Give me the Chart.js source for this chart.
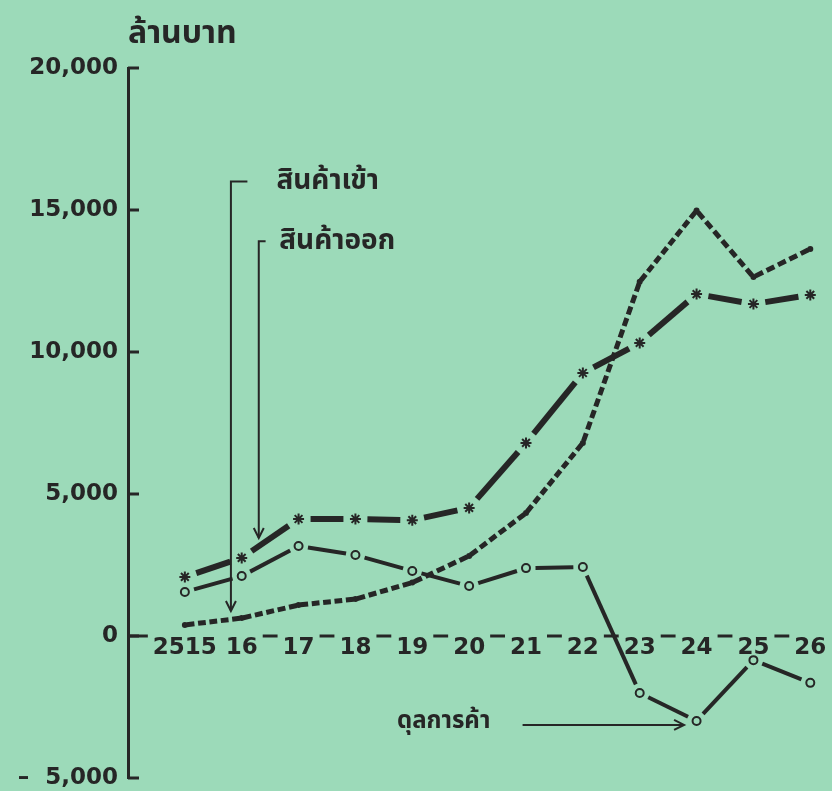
<!DOCTYPE html>
<html>
<head>
<meta charset="utf-8">
<script src="https://cdn.jsdelivr.net/npm/chart.js@4/dist/chart.umd.min.js"></script>
<style>
  html, body { margin: 0; padding: 0; background: #9cdab9; }
  #wrap { width: 832px; height: 791px; }
</style>
</head>
<body>
<div id="wrap"><canvas id="tradeChart" width="832" height="791"></canvas></div>
<script>
// years (2515 = B.E., then short form)
const categories = ['2515', '16', '17', '18', '19', '20', '21', '22', '23', '24', '25', '26'];
// million baht
const exportsValues = [2080, 2750, 4120, 4120, 4080, 4510, 6800, 9260, 10320, 12040, 11690, 12010];
const importsValues = [390, 630, 1090, 1300, 1880, 2820, 4330, 6800, 12470, 14980, 12640, 13630];
const balanceValues = [1550, 2110, 3170, 2850, 2290, 1760, 2390, 2430, -2010, -2990, -850, -1650];
const yTicks = [-5000, 0, 5000, 10000, 15000, 20000];

const INK = '#262626';
const BG = '#9cdab9';
const NUM_FONT = 'DejaVu Sans';
const THAI_FONT = "'Noto Sans Thai', 'Noto Sans Thai Looped', Loma, Garuda, 'Tlwg Typo', 'DejaVu Sans', sans-serif";

const toPoints = (vals) => vals.map((v, i) => ({ x: i, y: v }));

const segLen = (ctx) => Math.hypot(ctx.p1.x - ctx.p0.x, ctx.p1.y - ctx.p0.y);

// one solid dash per segment, leaving a gap g around each marker
const gapped = (g) => ({
  borderDash: ctx => { const L = segLen(ctx); return [Math.max(L - 2 * g, 0), 2 * g]; },
  borderDashOffset: ctx => segLen(ctx) - g
});

// short dashes fitted so every segment starts and ends on half a gap
const dashed = (period, ratio) => ({
  borderDash: ctx => {
    const L = segLen(ctx);
    const p = L / Math.max(1, Math.round(L / period));
    return [p * ratio, p * (1 - ratio)];
  },
  borderDashOffset: ctx => {
    const L = segLen(ctx);
    const p = L / Math.max(1, Math.round(L / period));
    return p * ratio + p * (1 - ratio) / 2;
  }
});

// labels and arrows, in data space (x = category index, y = million baht)
const notes = [
  { text: 'สินค้าเข้า', corner: [0.81, 16000], barEnd: 1.1, textX: 1.61, tip: 880 },
  { text: 'สินค้าออก', corner: [1.30, 13900], barEnd: 1.42, textX: 1.66, tip: 3450 }
];
const balanceNote = { text: 'ดุลการค้า', textX: 3.73, y: -3130, from: 5.94, to: 8.78 };

function arrowHead(ctx, x, y, dx, dy) {
  const len = 10, w = 5;
  ctx.beginPath();
  ctx.moveTo(x - dx * len - dy * w, y - dy * len + dx * w);
  ctx.lineTo(x, y);
  ctx.lineTo(x - dx * len + dy * w, y - dy * len - dx * w);
  ctx.stroke();
}

const axisDecor = {
  id: 'axisDecor',
  beforeDatasetsDraw(chart) {
    const { ctx, scales: { x, y }, chartArea } = chart;
    ctx.save();
    ctx.strokeStyle = INK;
    ctx.lineWidth = 3;
    // inward tick marks on the value axis
    yTicks.forEach(v => {
      const py = y.getPixelForValue(v);
      ctx.beginPath();
      ctx.moveTo(chartArea.left, py);
      ctx.lineTo(chartArea.left + 11, py);
      ctx.stroke();
    });
    // broken zero line between the year labels
    const y0 = y.getPixelForValue(0);
    ctx.font = 'bold 23px ' + NUM_FONT;
    let prev = chartArea.left;
    categories.forEach((c, i) => {
      const px = x.getPixelForValue(i);
      const w = ctx.measureText(c).width;
      const l = px - w / 2 - 5;
      if (l > prev) {
        ctx.beginPath();
        ctx.moveTo(prev, y0);
        ctx.lineTo(l, y0);
        ctx.stroke();
      }
      prev = px + w / 2 + 5;
    });
    ctx.restore();
  },
  afterDraw(chart) {
    const { ctx, scales: { x, y }, chartArea } = chart;
    ctx.save();
    ctx.fillStyle = INK;
    ctx.strokeStyle = INK;
    ctx.font = 'bold 32px ' + THAI_FONT;
    ctx.textBaseline = 'alphabetic';
    ctx.fillText('ล้านบาท', chartArea.left, 43);

    ctx.lineWidth = 2;
    ctx.textBaseline = 'middle';
    ctx.font = 'bold 28px ' + THAI_FONT;
    notes.forEach(n => {
      const cx = x.getPixelForValue(n.corner[0]);
      const cy = y.getPixelForValue(n.corner[1]);
      const ty = y.getPixelForValue(n.tip);
      ctx.beginPath();
      ctx.moveTo(x.getPixelForValue(n.barEnd), cy);
      ctx.lineTo(cx, cy);
      ctx.lineTo(cx, ty);
      ctx.stroke();
      arrowHead(ctx, cx, ty, 0, 1);
      ctx.fillText(n.text, x.getPixelForValue(n.textX), cy + 2);
    });

    ctx.font = 'bold 24px ' + THAI_FONT;
    const by = y.getPixelForValue(balanceNote.y);
    ctx.fillText(balanceNote.text, x.getPixelForValue(balanceNote.textX), by - 2);
    const ax = x.getPixelForValue(balanceNote.to);
    ctx.beginPath();
    ctx.moveTo(x.getPixelForValue(balanceNote.from), by);
    ctx.lineTo(ax, by);
    ctx.stroke();
    arrowHead(ctx, ax, by, 1, 0);
    ctx.restore();
  }
};

new Chart(document.getElementById('tradeChart'), {
  type: 'line',
  data: {
    datasets: [
      {
        label: 'สินค้าออก',
        data: toPoints(exportsValues),
        borderColor: INK,
        borderWidth: 6,
        borderCapStyle: 'butt',
        segment: gapped(12),
        pointStyle: 'star',
        pointRadius: 5.5,
        pointBorderWidth: 2,
        pointBorderColor: INK,
        pointBackgroundColor: INK,
        tension: 0
      },
      {
        label: 'สินค้าเข้า',
        data: toPoints(importsValues),
        borderColor: INK,
        borderWidth: 5,
        borderCapStyle: 'butt',
        segment: dashed(12, 0.68),
        pointStyle: 'circle',
        pointRadius: 3,
        pointBorderWidth: 0,
        pointBackgroundColor: INK,
        tension: 0
      },
      {
        label: 'ดุลการค้า',
        data: toPoints(balanceValues),
        borderColor: INK,
        borderWidth: 4,
        borderCapStyle: 'butt',
        segment: gapped(9.5),
        pointStyle: 'circle',
        pointRadius: 4,
        pointBorderWidth: 2,
        pointBorderColor: INK,
        pointBackgroundColor: BG,
        tension: 0
      }
    ]
  },
  options: {
    responsive: false,
    animation: false,
    layout: { padding: { top: 68, bottom: 13, left: 0, right: 0 } },
    plugins: {
      legend: { display: false },
      tooltip: { enabled: false }
    },
    scales: {
      x: {
        type: 'linear',
        position: { y: 0 },
        min: -1,
        max: 11.25,
        grid: { display: false, drawTicks: false },
        border: { display: false },
        ticks: {
          stepSize: 1,
          autoSkip: false,
          maxRotation: 0,
          includeBounds: false,
          padding: -2,
          color: INK,
          font: { family: NUM_FONT, size: 23, weight: 'bold' },
          callback: v => (Number.isInteger(v) && categories[v] !== undefined) ? categories[v] : ''
        }
      },
      y: {
        min: -5000,
        max: 20000,
        afterFit: s => { s.width = 128; s.paddingTop = 0; s.paddingBottom = 0; },
        grid: { display: false, drawTicks: false },
        border: { display: true, color: INK, width: 3 },
        afterBuildTicks: s => { s.ticks = yTicks.map(v => ({ value: v })); },
        ticks: {
          padding: 10,
          color: INK,
          font: { family: NUM_FONT, size: 23, weight: 'bold' },
          callback: v => v < 0 ? '–  ' + Math.abs(v).toLocaleString('en-US') : v.toLocaleString('en-US')
        }
      }
    }
  },
  plugins: [axisDecor]
});
</script>
</body>
</html>
